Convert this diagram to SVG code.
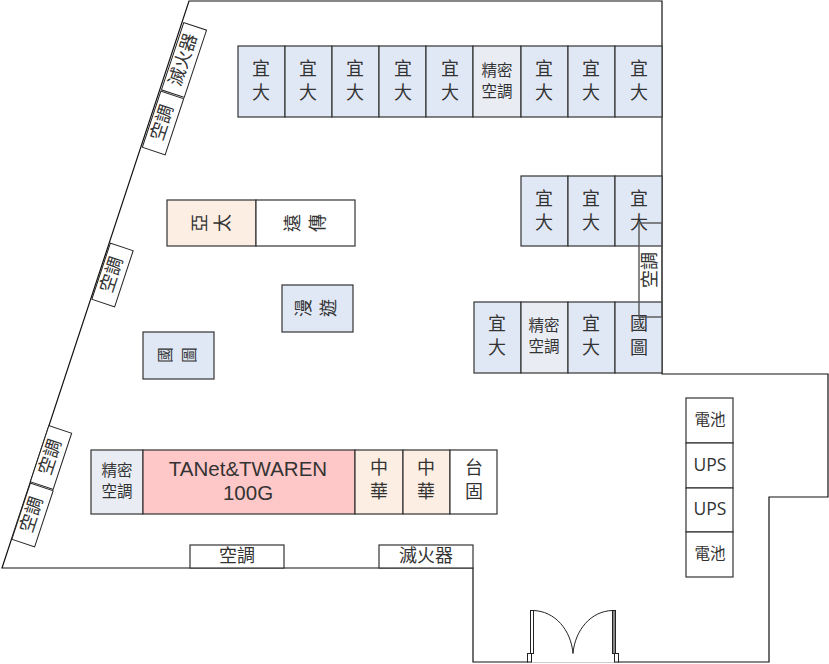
<svg xmlns="http://www.w3.org/2000/svg" width="829" height="664" viewBox="0 0 829 664">
<style>
.w{fill:none;stroke:#111;stroke-width:1.200}
.b{stroke:#333;stroke-width:1.200}
.blue{fill:#e1e8f5}
.grey{fill:#e9edf3}
.org{fill:#fdeee3}
.red{fill:#ffc8c8}
.wh{fill:#fff}
text{font-family:"Noto Sans CJK TC","Noto Sans",sans-serif;font-size:18px;fill:#333;text-anchor:middle}
.s{font-size:15.500px}
.e{font-family:"Open Sans","Noto Sans",sans-serif}
.l{font-family:"Liberation Sans",Arial,sans-serif;font-size:20.500px}
.u{font-size:17.500px}
</style>
<rect width="829" height="664" fill="#fff"/>
<g id="connectors">
<path id="wall" class="w" d="M618 662H769V497H828V374H662V1H189L2 568H473V662H528"/>
<path d="M528 662.500H618" stroke="#ccc" stroke-width="1" fill="none"/>
</g>
<g id="top-row">
<g id="t1"><rect class="b blue" x="238" y="46" width="47" height="71"/><text><tspan x="261" y="75">宜</tspan><tspan x="261" y="99">大</tspan></text></g>
<g id="t2"><rect class="b blue" x="285" y="46" width="47" height="71"/><text><tspan x="308" y="75">宜</tspan><tspan x="308" y="99">大</tspan></text></g>
<g id="t3"><rect class="b blue" x="332" y="46" width="47" height="71"/><text><tspan x="355" y="75">宜</tspan><tspan x="355" y="99">大</tspan></text></g>
<g id="t4"><rect class="b blue" x="379" y="46" width="47" height="71"/><text><tspan x="403" y="75">宜</tspan><tspan x="403" y="99">大</tspan></text></g>
<g id="t5"><rect class="b blue" x="426" y="46" width="47" height="71"/><text><tspan x="450" y="75">宜</tspan><tspan x="450" y="99">大</tspan></text></g>
<g id="t6"><rect class="b grey" x="473" y="46" width="48" height="71"/><text class="s"><tspan x="497" y="75.500">精密</tspan><tspan x="497" y="96.500">空調</tspan></text></g>
<g id="t7"><rect class="b blue" x="521" y="46" width="47" height="71"/><text><tspan x="544" y="75">宜</tspan><tspan x="544" y="99">大</tspan></text></g>
<g id="t8"><rect class="b blue" x="568" y="46" width="47" height="71"/><text><tspan x="591" y="75">宜</tspan><tspan x="591" y="99">大</tspan></text></g>
<g id="t9"><rect class="b blue" x="615" y="46" width="47" height="71"/><text><tspan x="639" y="75">宜</tspan><tspan x="639" y="99">大</tspan></text></g>
</g>
<g id="mid-row">
<g id="m1"><rect class="b blue" x="521" y="176" width="47" height="70"/><text><tspan x="544" y="205">宜</tspan><tspan x="544" y="229">大</tspan></text></g>
<g id="m2"><rect class="b blue" x="568" y="176" width="47" height="70"/><text><tspan x="591" y="205">宜</tspan><tspan x="591" y="229">大</tspan></text></g>
<g id="m3"><rect class="b blue" x="615" y="176" width="47" height="70"/><text><tspan x="639" y="205">宜</tspan><tspan x="639" y="229">大</tspan></text></g>
</g>
<g id="low-row">
<g id="r1"><rect class="b blue" x="474" y="302" width="47" height="71"/><text><tspan x="497" y="330">宜</tspan><tspan x="497" y="354">大</tspan></text></g>
<g id="r2"><rect class="b grey" x="521" y="302" width="47" height="71"/><text class="s"><tspan x="544" y="331">精密</tspan><tspan x="544" y="352">空調</tspan></text></g>
<g id="r3"><rect class="b blue" x="568" y="302" width="47" height="71"/><text><tspan x="591" y="330">宜</tspan><tspan x="591" y="354">大</tspan></text></g>
<g id="r4"><rect class="b blue" x="615" y="302" width="47" height="71"/><text><tspan x="639" y="330">國</tspan><tspan x="639" y="354">圖</tspan></text></g>
</g>
<g id="ac-right"><rect x="639" y="223" width="23" height="94" fill="none" stroke="#555" stroke-width="1.400"/><text transform="translate(649.500 270) rotate(-90)" y="6">空調</text></g>
<g id="yatai"><rect class="b org" x="167" y="200" width="89" height="46"/><text transform="translate(200 223) rotate(-90)" y="6">亞</text><text transform="translate(223 223) rotate(-90)" y="6">太</text></g>
<g id="yuanchuan"><rect class="b wh" x="256" y="200" width="99" height="46"/><text transform="translate(293 223) rotate(-90)" y="6">遠</text><text transform="translate(318 223) rotate(-90)" y="6">傳</text></g>
<g id="manyou"><rect class="b blue" x="282" y="285" width="71" height="47"/><text transform="translate(304 308) rotate(-90)" y="6">漫</text><text transform="translate(329 308) rotate(-90)" y="6">遊</text></g>
<g id="guotu"><rect class="b blue" x="143" y="332" width="71" height="47"/><text class="s" transform="translate(165 355) rotate(-90)" y="6">國</text><text class="s" transform="translate(189 355) rotate(-90)" y="6">圖</text></g>
<g id="bottom-row">
<g id="b1"><rect class="b grey" x="91" y="450" width="52" height="64"/><text class="s"><tspan x="117" y="476">精密</tspan><tspan x="117" y="497">空調</tspan></text></g>
<g id="b2"><rect class="b red" x="143" y="450" width="212" height="64"/><text class="l"><tspan x="248" y="476">TANet&amp;TWAREN</tspan><tspan x="248" y="500">100G</tspan></text></g>
<g id="b3"><rect class="b org" x="355" y="450" width="48" height="64"/><text><tspan x="379" y="474">中</tspan><tspan x="379" y="498">華</tspan></text></g>
<g id="b4"><rect class="b org" x="403" y="450" width="47" height="64"/><text><tspan x="426" y="474">中</tspan><tspan x="426" y="498">華</tspan></text></g>
<g id="b5"><rect class="b wh" x="450" y="450" width="47" height="64"/><text><tspan x="474" y="474">台</tspan><tspan x="474" y="498">固</tspan></text></g>
</g>
<g id="ac-floor"><rect class="b wh" x="190" y="545" width="94" height="23"/><text x="237" y="562">空調</text></g>
<g id="ext-floor"><rect class="b wh" x="379" y="545" width="94" height="23"/><text x="426" y="562">滅火器</text></g>
<g id="ups">
<g id="u1"><rect class="b wh" x="686" y="398" width="47" height="45"/><text class="s" x="710" y="425">電池</text></g>
<g id="u2"><rect class="b wh" x="686" y="443" width="47" height="45"/><text class="u e" x="710" y="471">UPS</text></g>
<g id="u3"><rect class="b wh" x="686" y="488" width="47" height="44"/><text class="u e" x="710" y="515">UPS</text></g>
<g id="u4"><rect class="b wh" x="686" y="532" width="47" height="45"/><text class="s" x="710" y="559">電池</text></g>
</g>
<g id="wall-ext"><rect class="wh" stroke="#222" x="-35.500" y="-12" width="71" height="24" transform="translate(184 60) rotate(-71.700)"/><text transform="translate(184 60) rotate(-71.700)" y="5">滅火器</text></g>
<g id="wall-ac1"><rect class="wh" stroke="#222" x="-29.500" y="-12" width="59" height="24" transform="translate(163 123) rotate(-71.700)"/><text transform="translate(163 123) rotate(-71.700)" y="5">空調</text></g>
<g id="wall-ac2"><rect class="wh" stroke="#222" x="-29.500" y="-12" width="59" height="24" transform="translate(112.500 275) rotate(-71.700)"/><text transform="translate(112.500 275) rotate(-71.700)" y="5">空調</text></g>
<g id="wall-ac3"><rect class="wh" stroke="#222" x="-29.500" y="-12" width="59" height="24" transform="translate(51 457.500) rotate(-71.700)"/><text transform="translate(51 457.500) rotate(-71.700)" y="5">空調</text></g>
<g id="wall-ac4"><rect class="wh" stroke="#222" x="-29.500" y="-12" width="59" height="24" transform="translate(32.500 515) rotate(-71.700)"/><text transform="translate(32.500 515) rotate(-71.700)" y="5">空調</text></g>
<g id="door" fill="none" stroke="#222" stroke-width="1">
<rect x="530.500" y="610.500" width="3" height="43" fill="#fff"/>
<rect x="612.500" y="610.500" width="3" height="43" fill="#888"/>
<rect x="527.500" y="653.500" width="4" height="8.500"/>
<rect x="614.500" y="653.500" width="4" height="8.500"/>
<path d="M533 610.500C555 611 571 630 573 653.500C575 630 591 611 612.500 610.500"/>
</g>
</svg>
